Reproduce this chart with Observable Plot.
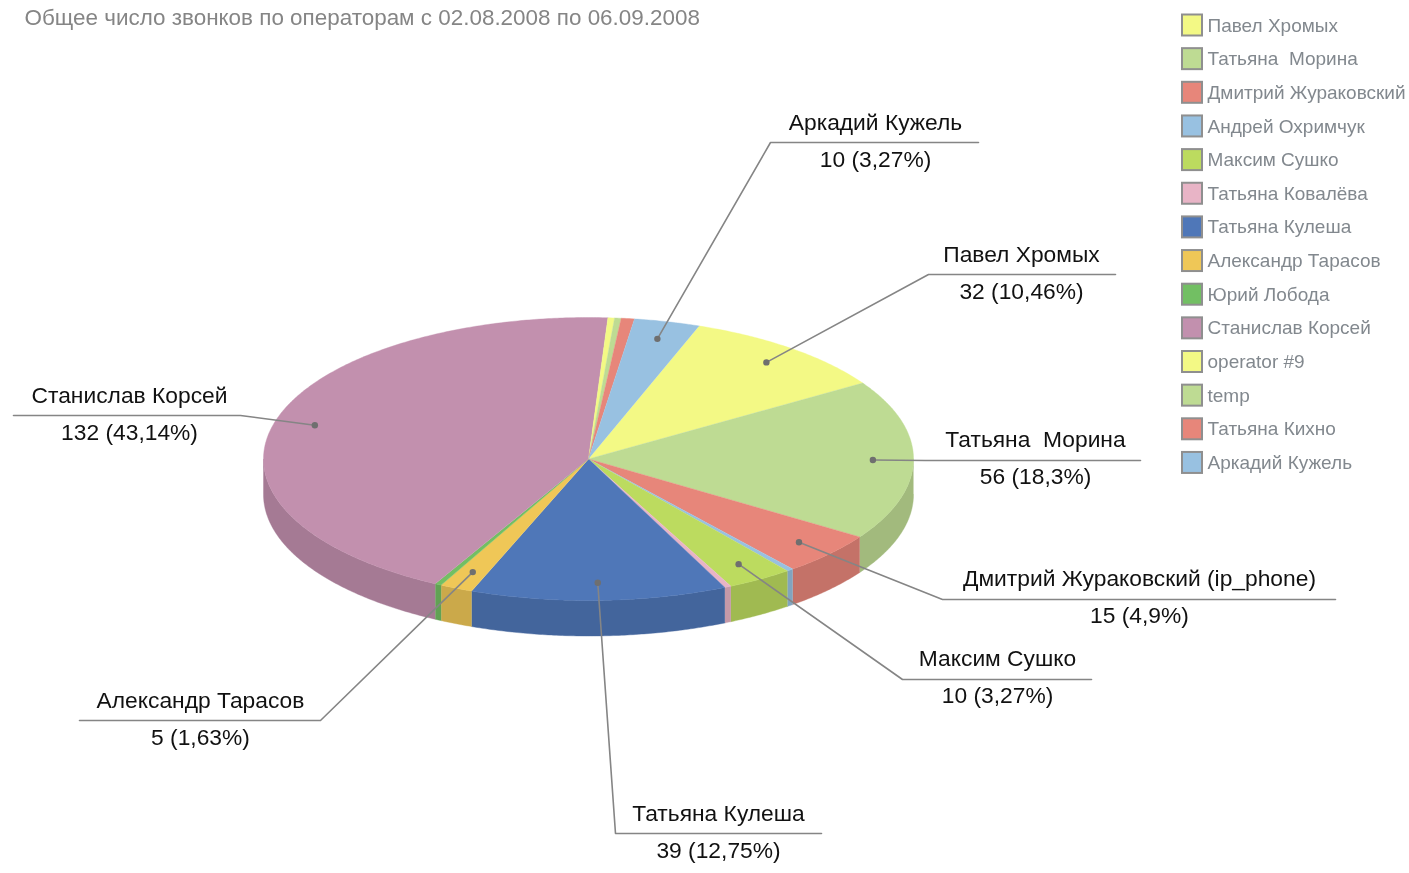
<!DOCTYPE html>
<html><head><meta charset="utf-8">
<script src="https://cdn.jsdelivr.net/npm/d3@7"></script>
<script src="https://cdn.jsdelivr.net/npm/@observablehq/plot@0.6"></script>
<style>
html,body{margin:0;padding:0;background:#fff;overflow:hidden}
svg{display:block;filter:blur(0.55px)}
svg text{white-space:pre}
</style></head><body>
<script>
const operators = ["Павел Хромых","Татьяна  Морина","Дмитрий Жураковский","Андрей Охримчук","Максим Сушко","Татьяна Ковалёва","Татьяна Кулеша","Александр Тарасов","Юрий Лобода","Станислав Корсей","operator #9","temp","Татьяна Кихно","Аркадий Кужель"];
const calls = [32,56,15,1,10,1,39,5,1,132,1,1,2,10];
const colors = ["#f3f985","#bedb93","#e7867a","#98c1e1","#bcdb5f","#e8b4c6","#4f77b8","#efc757","#72bf63","#c290ae","#f3f985","#bedb93","#e7867a","#98c1e1"];
const labelled = ["Аркадий Кужель","Павел Хромых","Татьяна  Морина","Дмитрий Жураковский","Максим Сушко","Татьяна Кулеша","Александр Тарасов","Станислав Корсей"];
const labelNames = {"Дмитрий Жураковский":"Дмитрий Жураковский (ip_phone)"};
const title = "Общее число звонков по операторам с 02.08.2008 по 06.09.2008";

// layout
const W=1409,H=873,cx=588,cy=458.5,rx=325,ry=141.5,depth=35.5,startDeg=19.9,dotR=0.875;
const callouts = {
 "Аркадий Кужель":{elbow:[770,142],end:[978,142],tx:875,t1:122.5,t2:159.5},
 "Павел Хромых":{elbow:[928,274],end:[1115,274],tx:1021,t1:254.5,t2:291.5},
 "Татьяна  Морина":{elbow:[925,460],end:[1140,460],tx:1035,t1:439.5,t2:476.5},
 "Дмитрий Жураковский":{elbow:[942,599],end:[1335,599],tx:1139,t1:578.5,t2:615.5},
 "Максим Сушко":{elbow:[902,679],end:[1091,679],tx:997,t1:658.5,t2:695.5},
 "Татьяна Кулеша":{elbow:[615,833],end:[821,833],tx:718,t1:813.5,t2:850.5},
 "Александр Тарасов":{elbow:[320,720],end:[79,720],tx:200,t1:700.5,t2:737.5},
 "Станислав Корсей":{elbow:[240,415],end:[13,415],tx:129,t1:395.5,t2:432.5}
};
const total = d3.sum(calls);
const rad = d=>d*Math.PI/180;
const pt=(a,r=1,dy=0)=>[cx+rx*r*Math.sin(a),cy-ry*r*Math.cos(a)+dy];
const arcs = d3.pie().sort(null).startAngle(rad(startDeg)).endAngle(rad(startDeg+360))(calls);
const slices = arcs.map((a,i)=>({name:operators[i],value:calls[i],color:colors[i],a0:a.startAngle,a1:a.endAngle}));
const darker=c=>{const r=d3.rgb(c);return d3.rgb(r.r*.85,r.g*.85,r.b*.85).formatHex()};
const arcAngles=(a0,a1)=>{const n=Math.max(2,Math.ceil((a1-a0)/rad(0.5)));return d3.range(n+1).map(k=>a0+(a1-a0)*k/n)};

const topFace=[],side=[];
for(const s of slices){
  topFace.push({id:s.name,p:[cx,cy],color:s.color});
  for(const a of arcAngles(s.a0,s.a1)) topFace.push({id:s.name,p:pt(a),color:s.color});
  // visible front wall: angles between 90 and 270 degrees (possibly wrapped)
  for(const off of [0,2*Math.PI]){
    const lo=Math.max(s.a0,rad(90)+off),hi=Math.min(s.a1,rad(270)+off);
    if(hi>lo){
      const as=arcAngles(lo,hi),c=darker(s.color);
      for(const a of as) side.push({id:s.name,p:pt(a),color:c});
      for(const a of as.slice().reverse()) side.push({id:s.name,p:pt(a,1,depth),color:c});
    }
  }
}
const bySlice=new Map(slices.map(s=>[s.name,s]));
const leaders=[],dots=[],texts=[];
for(const n of labelled){
  const s=bySlice.get(n),c=callouts[n],p=pt((s.a0+s.a1)/2,dotR);
  dots.push({p});
  [p,c.elbow,c.end].forEach(q=>leaders.push({id:n,p:q}));
  const pct=String(+(s.value/total*100).toFixed(2)).replace(".",",");
  texts.push({x:c.tx,y:c.t1,t:labelNames[n]||n});
  texts.push({x:c.tx,y:c.t2,t:`${s.value} (${pct}%)`});
}
const legend=operators.map((n,i)=>({n,color:colors[i],y:25+33.65*i}));
const X=d=>d.p[0],Y=d=>d.p[1];
const font="Liberation Sans";
const chart=Plot.plot({
  width:W,height:H,margin:0,
  x:{domain:[0,W],range:[0,W],axis:null},
  y:{domain:[0,H],range:[0,H],axis:null},
  color:{type:"identity"},
  marks:[
    Plot.line(side,{x:X,y:Y,z:"id",fill:"color",stroke:"color",strokeWidth:0.4,curve:"linear"}),
    Plot.line(topFace,{x:X,y:Y,z:"id",fill:"color",stroke:"color",strokeWidth:0.4,curve:"linear"}),
    Plot.line(leaders,{x:X,y:Y,z:"id",stroke:"#858585",strokeWidth:1.6,curve:"linear"}),
    Plot.dot(dots,{x:X,y:Y,r:3.2,fill:"#6f6f6f",stroke:"none"}),
    Plot.text(texts,{x:"x",y:"y",text:"t",fontFamily:font,fontSize:22.8,fill:"#111",textAnchor:"middle",lineAnchor:"middle"}),
    Plot.text([title],{x:()=>24,y:()=>17.5,text:d=>d,fontFamily:font,fontSize:22.45,fill:"#858585",textAnchor:"start",lineAnchor:"middle"}),
    Plot.rect(legend,{x1:()=>1182,x2:()=>1202,y1:d=>d.y-10.5,y2:d=>d.y+10.5,fill:"color",stroke:"#8f8f8f",strokeWidth:2}),
    Plot.text(legend,{x:()=>1207,y:"y",text:"n",fontFamily:font,fontSize:19,fill:"#82888e",textAnchor:"start",lineAnchor:"middle"})
  ]
});
document.body.appendChild(chart);
</script></body></html>
